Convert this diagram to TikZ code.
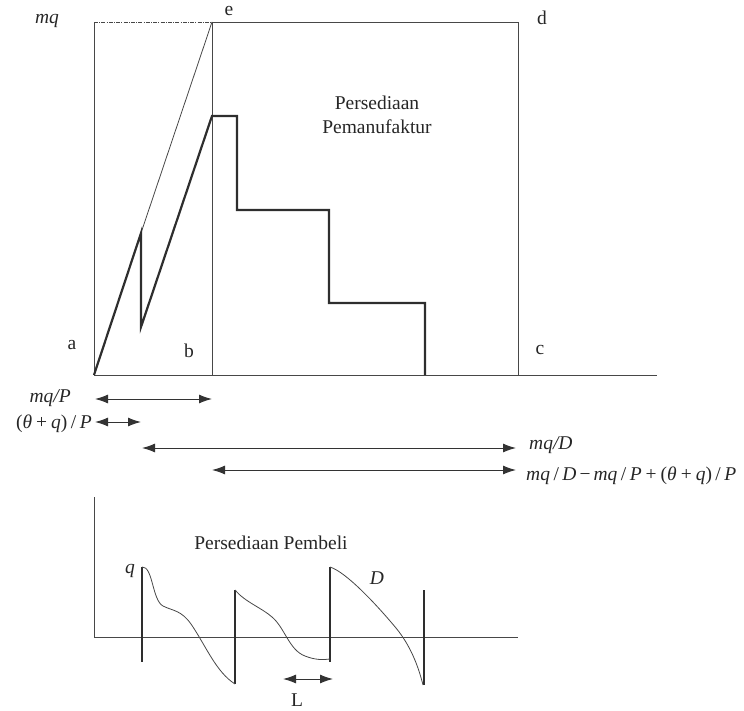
\documentclass[tikz,border=0pt]{standalone}
\usepackage{fontspec}
\setmainfont{Liberation Serif}
\usetikzlibrary{arrows.meta}
\newcommand{\myit}[1]{\textit{#1}}
\newcommand{\mysl}{\hspace{3.5pt}/\hspace{3.5pt}}
\newcommand{\myplus}{\hspace{4pt}+\hspace{4pt}}
\newcommand{\myminus}{\hspace{3pt}−\hspace{3pt}}
\begin{document}
\begin{tikzpicture}[x=1pt,y=-1pt,
  font=\fontsize{19.5}{23}\selectfont,
  thinline/.style={line width=0.8pt, draw=black!72},
  thickline/.style={line width=2.2pt, draw=black!82, line join=miter},
  dimarrow/.style={line width=1pt, draw=black!80,
     {Latex[length=13pt,width=9pt]}-{Latex[length=13pt,width=9pt]}},
  lbl/.style={inner sep=0pt, text=black!85}]
\useasboundingbox (0,0) rectangle (744,711);

% ---------- upper diagram ----------
\coordinate (A) at (94,375);
\coordinate (TL) at (94,22);
\coordinate (E) at (212,22);
\coordinate (Dc) at (518,22);
\coordinate (C) at (518,375);
\coordinate (B) at (212,375);
\coordinate (AX) at (657,375);
\coordinate (P1) at (141,233);

\draw[thinline] (A) -- (TL);
\draw[thinline, line width=0.7pt, dash pattern=on 4pt off 1.2pt on 1pt off 1.2pt] (TL) -- (E);
\draw[thinline] (E) -- (Dc) -- (C);
\draw[thinline] (E) -- (B);
\draw[thinline] (A) -- (AX);
\draw[thinline] (P1) -- (E);

\draw[thickline] (A) -- (P1) -- (141,327) -- (212,116) -- (237,116)
  -- (237,210) -- (329,210) -- (329,303) -- (425,303) -- (425,375);

\node[lbl] (lmq) at (47,21) {\myit{mq}};
\node[lbl] (le) at (229,11) {e};
\node[lbl] (ld) at (542,18) {d};
\node[lbl] (la) at (72,345) {a};
\node[lbl] (lb) at (189,351) {b};
\node[lbl] (lc) at (540,350) {c};
\node[lbl, align=center] (lpm) at (377,115) {Persediaan\\[1pt]Pemanufaktur};

% ---------- dimension arrows ----------
\coordinate (d1l) at (95,399);  \coordinate (d1r) at (212,399);
\coordinate (d2l) at (95,422);  \coordinate (d2r) at (141,422);
\coordinate (d3l) at (142,448); \coordinate (d3r) at (516,448);
\coordinate (d4l) at (212,470); \coordinate (d4r) at (516,470);
\draw[dimarrow] (d1l) -- (d1r);
\draw[dimarrow] (d2l) -- (d2r);
\draw[dimarrow] (d3l) -- (d3r);
\draw[dimarrow] (d4l) -- (d4r);

\node[lbl, anchor=east] (lmqP) at (71,398) {\myit{mq/P}};
\node[lbl, anchor=east] (ltqP) at (92,424) {(\myit{θ}\myplus\myit{q})\mysl\myit{P}};
\node[lbl, anchor=west] (lmqD) at (529,445) {\myit{mq/D}};
\node[lbl, anchor=west] (lform) at (526,476)
  {\myit{mq}\mysl\myit{D}\myminus\myit{mq}\mysl\myit{P}\myplus(\myit{θ}\myplus\myit{q})\mysl\myit{P}};

% ---------- lower diagram ----------
\coordinate (O) at (94,637);
\coordinate (YT) at (94,497);
\coordinate (XE) at (518,637);
\draw[thinline] (YT) -- (O) -- (XE);

\node[lbl] (lpb) at (271,543) {Persediaan Pembeli};
\node[lbl] (lq) at (130,571) {\myit{q}};
\node[lbl] (lD) at (377,578) {\myit{D}};

\coordinate (v1t) at (142,567); \coordinate (v1b) at (142,662);
\coordinate (v2t) at (235,590); \coordinate (v2b) at (235,684);
\coordinate (v3t) at (330,567); \coordinate (v3b) at (330,662);
\coordinate (v4t) at (424,590); \coordinate (v4b) at (424,685);

\draw[thickline] (v1t) -- (v1b);
\draw[thickline] (v2t) -- (v2b);
\draw[thickline] (v3t) -- (v3b);
\draw[thickline] (v4t) -- (v4b);

\draw[thinline] (v1t) .. controls (153,566) and (152,600) .. (163,606)
   .. controls (173,611) and (181,610) .. (191,624)
   .. controls (206,646) and (216,672) .. (v2b);
\draw[thinline] (v2t) .. controls (245,602) and (262,608) .. (272,617)
   .. controls (285,628) and (289,650) .. (305,656)
   .. controls (315,660) and (323,660) .. (330,659);
\draw[thinline] (v3t) .. controls (346,572) and (376,604) .. (396,628)
   .. controls (410,645) and (418,665) .. (423,685);

\coordinate (Ll) at (283,679); \coordinate (Lr) at (333,679);
\draw[dimarrow] (Ll) -- (Lr);
\node[lbl] (lL) at (297,700) {L};
\end{tikzpicture}
\end{document}
